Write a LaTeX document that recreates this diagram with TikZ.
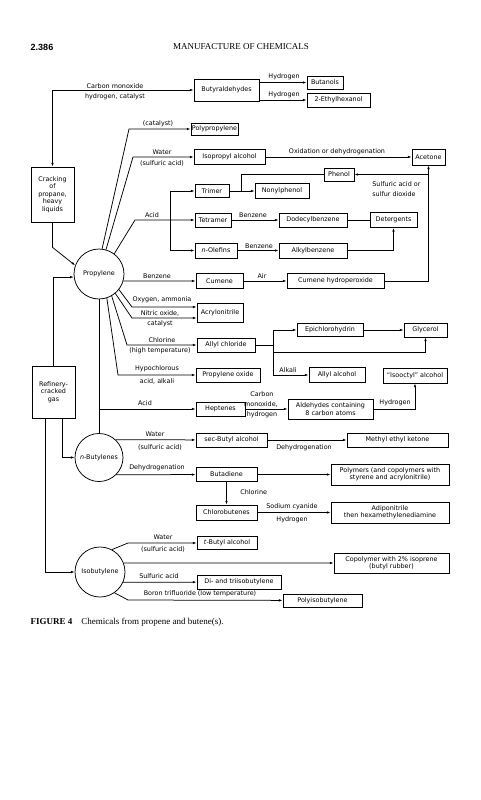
\documentclass[tikz,border=0pt]{standalone}
\usepackage{fontspec}
\setmainfont{Liberation Serif}
\setsansfont{DejaVu Sans}
\newfontfamily\headsans{Liberation Sans}
\usetikzlibrary{arrows.meta,positioning}

\begin{document}
\begin{tikzpicture}[x=1pt,y=-1pt,line width=0.75pt,
    every node/.style={font=\sffamily\fontsize{6.4}{7.4}\selectfont},
    box/.style={draw,inner sep=1pt,align=center},
    sz/.style 2 args={minimum width=#1pt,minimum height=#2pt},
    vessel/.style={draw,circle,inner sep=0pt,minimum size=#1pt},
    lbl/.style={inner sep=0pt},
    arr/.style={-{Latex[length=3.8pt,width=2.6pt]}}]
    \useasboundingbox (0,0) rectangle (481,800);

    % heading and caption
    \node[font=\headsans\bfseries\fontsize{9}{10}\selectfont] (pagenum) at (42,47) {2.386};
    \node[font=\rmfamily\fontsize{9}{10}\selectfont] (runhead) at (241,47) {MANUFACTURE OF CHEMICALS};
    \node[anchor=west,font=\rmfamily\fontsize{9}{10}\selectfont] (caption) at (27,622)
        {\textbf{FIGURE 4}\quad Chemicals from propene and butene(s).};

    % feed boxes and olefins
    \node[box,sz={43}{55}] (crack) at (52.5,194.5) {Cracking\\of\\propane,\\heavy\\liquids};
    \node[box,sz={43}{52}] (refin) at (53.5,392) {Refinery-\\cracked\\gas};
    \node[vessel=50] (prop) at (99,274) {Propylene};
    \node[vessel=48] (nbut) at (99,457.5) {\textit{n}-Butylenes};
    \node[vessel=50] (isobut) at (100,572) {Isobutylene};

    % products
    \node[box,sz={65}{22}] (butyr) at (226.5,90) {Butyraldehydes};
    \node[box,sz={36}{13}] (butanol) at (325,82.5) {Butanols};
    \node[box,sz={63}{14}] (ethylhex) at (338.5,100) {2-Ethylhexanol};
    \node[box,sz={41}{12}] (polyprop) at (214.5,129) {Polypropylene};
    \node[box,sz={71}{15}] (isoprop) at (229.5,157) {Isopropyl alcohol};
    \node[box,sz={33}{16}] (acetone) at (428.5,157) {Acetone};
    \node[box,sz={30}{13}] (phenol) at (339,174.5) {Phenol};
    \node[box,sz={34}{13}] (trimer) at (212,191) {Trimer};
    \node[box,sz={54}{15}] (nonyl) at (282,191) {Nonylphenol};
    \node[box,sz={36}{14}] (tetramer) at (213,220) {Tetramer};
    \node[box,sz={68}{14}] (dodecyl) at (313,220) {Dodecylbenzene};
    \node[box,sz={47}{15}] (deterg) at (393.5,220) {Detergents};
    \node[box,sz={42}{15}] (olefins) at (216,250.5) {\textit{n}-Olefins};
    \node[box,sz={68}{15}] (alkyl) at (313,250.5) {Alkylbenzene};
    \node[box,sz={47}{15}] (cumene) at (219.5,281) {Cumene};
    \node[box,sz={97}{15}] (cumhp) at (335.5,281) {Cumene hydroperoxide};
    \node[box,sz={46}{19}] (acrylo) at (220,313) {Acrylonitrile};
    \node[box,sz={58}{14}] (allylcl) at (226,345) {Allyl chloride};
    \node[box,sz={66}{13}] (epichl) at (330,330) {Epichlorohydrin};
    \node[box,sz={43}{14}] (glycer) at (425.5,330) {Glycerol};
    \node[box,sz={56}{15}] (allylalc) at (337,375) {Allyl alcohol};
    \node[box,sz={64}{15}] (isooct) at (415,375.5) {“Isooctyl” alcohol};
    \node[box,sz={64}{14}] (propox) at (228,375) {Propylene oxide};
    \node[box,sz={49}{14}] (heptene) at (220.5,409) {Heptenes};
    \node[box,sz={85}{20}] (aldeh) at (330.5,409) {Aldehydes containing\\8 carbon atoms};
    \node[box,sz={71}{14}] (secbut) at (231.5,440) {sec-Butyl alcohol};
    \node[box,sz={101}{14}] (mek) at (397.5,440) {Methyl ethyl ketone};
    \node[box,sz={61}{14}] (butadi) at (226.5,474.5) {Butadiene};
    \node[box,sz={118}{21}] (polymers) at (390,474.5) {Polymers (and copolymers with\\styrene and acrylonitrile)};
    \node[box,sz={61}{15}] (chlorob) at (226.5,512.5) {Chlorobutenes};
    \node[box,sz={118}{21}] (adipo) at (390,512.5) {Adiponitrile\\then hexamethylenediamine};
    \node[box,sz={60}{13}] (tbutyl) at (227,543) {\textit{t}-Butyl alcohol};
    \node[box,sz={115}{20}] (copoly) at (391.5,563) {Copolymer with 2\% isoprene\\(butyl rubber)};
    \node[box,sz={84}{14}] (diiso) at (239,582) {Di- and triisobutylene};
    \node[box,sz={79}{13}] (polyiso) at (322.5,600.5) {Polyisobutylene};

    % reagent labels
    \node[lbl] (lco) at (115,86) {Carbon monoxide};
    \node[lbl] (lcocat) at (115,97) {hydrogen, catalyst};
    \node[lbl] (lhyda) at (284,77) {Hydrogen};
    \node[lbl] (lhydb) at (284,95) {Hydrogen};
    \node[lbl] (lcat) at (158,124) {(catalyst)};
    \node[lbl] (lwatera) at (162,152) {Water};
    \node[lbl] (lsulfa) at (162,163) {(sulfuric acid)};
    \node[lbl] (loxid) at (337,152) {Oxidation or dehydrogenation};
    \node[lbl,anchor=west] (lsox) at (372,184) {Sulfuric acid or};
    \node[lbl,anchor=west] (lsoxb) at (372,194) {sulfur dioxide};
    \node[lbl] (lacida) at (152,215) {Acid};
    \node[lbl] (lbenza) at (253,215) {Benzene};
    \node[lbl] (lbenzb) at (259,246) {Benzene};
    \node[lbl] (lbenzc) at (157,276) {Benzene};
    \node[lbl] (lair) at (262,276) {Air};
    \node[lbl] (loxam) at (162,300) {Oxygen, ammonia};
    \node[lbl] (lnitric) at (160,313) {Nitric oxide,};
    \node[lbl] (lcatb) at (160,324) {catalyst};
    \node[lbl] (lchlora) at (162,340) {Chlorine};
    \node[lbl] (lhight) at (160,351) {(high temperature)};
    \node[lbl] (lhypo) at (157,369) {Hypochlorous};
    \node[lbl] (lacalk) at (157,381) {acid, alkali};
    \node[lbl] (lalkali) at (288,370) {Alkali};
    \node[lbl] (lacidb) at (145,403) {Acid};
    \node[lbl] (lcarbon) at (262,394) {Carbon};
    \node[lbl] (lmonox) at (261,404) {monoxide,};
    \node[lbl] (lhydc) at (262,415) {hydrogen};
    \node[lbl] (lhydd) at (395,403) {Hydrogen};
    \node[lbl] (lwaterb) at (155,434) {Water};
    \node[lbl] (lsulfb) at (160,447) {(sulfuric acid)};
    \node[lbl] (ldehyda) at (304,448) {Dehydrogenation};
    \node[lbl] (ldehydb) at (157,468) {Dehydrogenation};
    \node[lbl,anchor=west] (lchlorb) at (240,492) {Chlorine};
    \node[lbl] (lnacn) at (292,507) {Sodium cyanide};
    \node[lbl] (lhyde) at (292,520) {Hydrogen};
    \node[lbl] (lwaterc) at (163,537) {Water};
    \node[lbl] (lsulfc) at (163,549) {(sulfuric acid)};
    \node[lbl] (lsulfd) at (159,576) {Sulfuric acid};
    \node[lbl] (lboron) at (200,593.5) {Boron trifluoride (low temperature)};

    % propylene routes
    \coordinate (topbend) at (crack |- butyr);
    \draw[arr] (topbend) -- (crack);
    \draw[arr] (topbend) -- (butyr);
    \draw[arr] (crack.south) -- ++(0,25) -- (prop.160);
    \draw[arr] (butyr.east |- butanol) -- (butanol);
    \draw[arr] (butyr.east |- ethylhex) -- (ethylhex);
    \draw[arr] (prop.83) -- (129,129) -- (polyprop);
    \draw[arr] (prop.74) -- (133,157) -- (isoprop);
    \draw[arr] (prop.53) -- (135,220) -- (tetramer);
    \coordinate (acidbus) at (170,220);
    \draw[arr] (acidbus |- trimer) -- (trimer);
    \draw[arr] (acidbus |- trimer) -- (acidbus |- olefins) -- (olefins);
    \draw[arr] (trimer) -- (nonyl);
    \coordinate (phjoin) at (241,191);
    \draw (phenol) -| (phjoin);
    \draw[arr] (tetramer) -- (dodecyl);
    \draw (dodecyl) -- (deterg);
    \draw[arr] (olefins) -- (alkyl);
    \draw[arr] (alkyl) -| (deterg);
    \draw[arr] (isoprop) -- (acetone);
    \draw[arr] (prop.-16) -- (cumene);
    \draw[arr] (cumene) -- (cumhp);
    \draw[arr] (cumhp) -| (acetone);
    \draw[arr] (acetone |- phenol) -- (phenol);
    \draw[arr] (prop.-38) -- (132,307) -- (acrylo.west |- 0,307);
    \draw[arr] (prop.-50) -- (132,318) -- (acrylo.west |- 0,318);
    \draw[arr] (prop.-60) -- (127,345) -- (allylcl);
    \draw[arr] (prop.-72) -- (118,375) -- (propox);
    \coordinate (clbus) at (273,345);
    \draw (allylcl) -- (clbus);
    \draw[arr] (clbus |- epichl) -- (epichl);
    \draw[arr] (clbus |- epichl) -- (clbus |- allylalc) -- (allylalc);
    \draw[arr] (clbus |- 0,352) -| (glycer);
    \draw[arr] (epichl) -- (glycer);
    \draw (prop) -- (nbut);
    \draw[arr] (prop |- heptene) -- (heptene);
    \draw[arr] (heptene) -- (aldeh);
    \draw[arr] (aldeh) -| (isooct);

    % refinery gas
    \draw[arr] (refin) |- (prop.187);
    \coordinate (refouta) at ([xshift=8.5pt]refin.south);
    \coordinate (refoutb) at ([xshift=-8pt]refin.south);
    \draw[arr] (refouta) |- (nbut);
    \draw[arr] (refoutb) |- (isobut);

    % butylenes
    \draw[arr] (nbut.47) -- (secbut);
    \draw[arr] (secbut) -- (mek);
    \draw[arr] (nbut.-45) -- (butadi);
    \draw[arr] (butadi) -- (polymers);
    \draw[arr] (butadi) -- (chlorob);
    \draw[arr] (chlorob) -- (adipo);
    \draw[arr] (isobut.62) -- (128,543) -- (tbutyl);
    \draw[arr] (isobut.21) -- (copoly);
    \draw[arr] (isobut.-24) -- (diiso);
    \draw[arr] (isobut.-55) -- (128,600) -- (polyiso);
\end{tikzpicture}
\end{document}
